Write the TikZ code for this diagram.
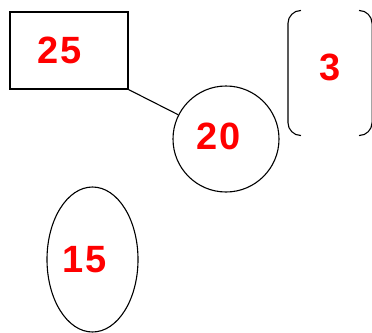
\documentclass[tikz,border=0pt]{standalone}
\usepackage{fontspec}
\setmainfont{Liberation Sans}
\usetikzlibrary{shapes.geometric}
\begin{document}
\begin{tikzpicture}[x=1pt, y=-1pt, line width=1.1pt,
		num/.style={font=\fontsize{38}{40}\selectfont\bfseries\addfontfeature{LetterSpace=6}, text=red, inner ysep=0pt}]
	\useasboundingbox (0, 0) rectangle (372, 332);
	%Nodes:
	\node[num, rectangle, draw, minimum width=118pt, minimum height=77pt, text width=64pt, align=left, inner xsep=27pt] (r25) at (69, 50.5) {25};
	\node[num, circle, draw, minimum size=106pt, text width=60pt, align=left, inner xsep=0pt, text depth=6pt] (c20) at (226, 139) {20};
	\node[num, ellipse, draw, minimum width=91pt, minimum height=145pt, text width=61pt, align=left, inner xsep=0pt] (e15) at (92.5, 259.5) {15};
	\node[num, minimum width=83pt, minimum height=124pt, text depth=12pt] (b3) at (330, 73) {3};
	%Edges:
	\draw (r25.south east) -- (c20);
	\draw[rounded corners=13pt] ([xshift=13pt]b3.north west) -- (b3.north west) -- (b3.south west) -- ([xshift=13pt]b3.south west);
	\draw[rounded corners=13pt] ([xshift=-13pt]b3.north east) -- (b3.north east) -- (b3.south east) -- ([xshift=-13pt]b3.south east);
\end{tikzpicture}
\end{document}
